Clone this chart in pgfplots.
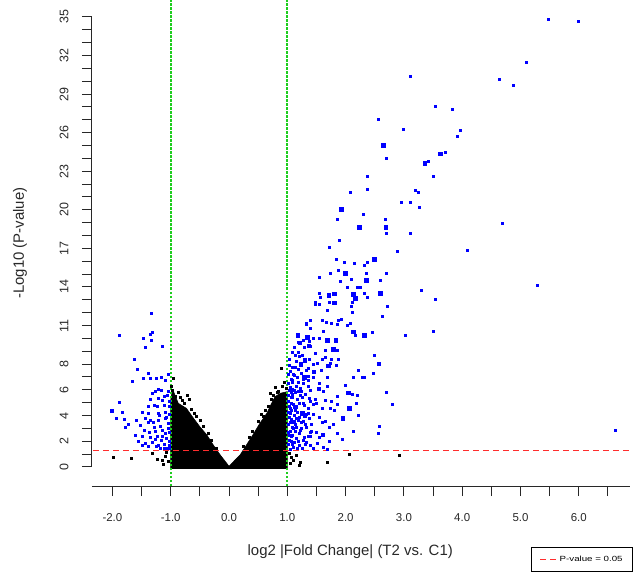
\documentclass[border=0pt]{standalone}
\usepackage{fontspec}
\setmainfont{Liberation Sans}
\usepackage{pgfplots}
\pgfplotsset{compat=1.18}
\definecolor{ptblue}{RGB}{0,0,255}
\definecolor{vgreen}{RGB}{30,205,30}
\definecolor{vred}{RGB}{255,45,45}
\definecolor{axgray}{RGB}{40,40,40}
\begin{document}
\begin{tikzpicture}
\begin{axis}[
  scale only axis, width=538bp, height=469bp,
  xmin=-2.35, xmax=6.878, ymin=-1.478, ymax=35,
  axis x line*=bottom, axis y line*=left,
  axis line style={-, line width=1bp, axgray},
  y axis line style={shorten <=19bp},
  tick align=outside,
  major tick length=10bp, minor tick length=10bp,
  every tick/.style={line width=1bp, axgray},
  minor tick style={line width=1bp, axgray},
  xtick={-2,-1,0,1,2,3,4,5,6},
  xticklabels={-2.0,-1.0,0.0,1.0,2.0,3.0,4.0,5.0,6.0},
  minor xtick={-1.5,-0.5,0.5,1.5,2.5,3.5,4.5,5.5,6.5},
  ytick={0,2,4,6,8,11,14,17,20,23,26,29,32,35},
  yticklabels={0,2,4,6,8,11,14,17,20,23,26,29,32,35},
  minor ytick={1,3,5,7,9,10,12,13,15,16,18,19,21,22,24,25,27,28,30,31,33,34},
  xticklabel style={font=\fontsize{11.5}{13}\selectfont, text=axgray},
  yticklabel style={font=\fontsize{12.5}{14}\selectfont, text=axgray, rotate=90, anchor=south},
  xticklabel shift=14bp,
  yticklabel shift=10bp,
  xlabel={log2 |Fold Change| (T2 vs. C1)},
  ylabel={-Log10 (P-value)},
  label style={font=\fontsize{15}{18}\selectfont, text=axgray},
  xlabel style={at={(axis description cs:0.48,-0.141)}, anchor=center},
  ylabel style={at={(axis description cs:-0.134,0.518)}, anchor=center},
  clip=false,
  legend style={at={(axis description cs:1.0056,-0.130)}, anchor=north east,
    font=\fontsize{7.5}{8}\selectfont, draw=black, line width=0.8bp,
    inner xsep=8bp, inner ysep=6.5bp, cells={anchor=west}},
]
% dense non-significant cloud
\addplot[fill=black, draw=black, line width=0.6bp, forget plot] coordinates {
(-1.0,-0.12) (-1.0,5.2) (-0.98,5.75) (-0.95,5.85) (-0.87,4.95) (-0.73,4.56) (-0.61,3.79)
(-0.50,3.13) (-0.38,2.49) (-0.27,1.71) (-0.15,0.93) (-0.04,0.29) (0,0.05) (0.05,0.29)
(0.19,0.93) (0.30,1.71) (0.42,2.57) (0.53,3.40) (0.65,4.18) (0.73,4.95) (0.79,5.47)
(0.88,5.73) (1.0,5.86) (1.0,-0.12)} -- cycle;
\addplot[only marks, mark=square*, mark size=1bp, black, forget plot] coordinates {
(-1.99,0.80)(-1.68,0.70)(-1.23,0.62)(-1.32,1.09)(-1.15,0.50)(-1.10,0.85)(-1.08,1.15)(-1.13,0.25)(-1.05,0.45)
(-0.95,6.90)(-0.99,6.25)(-0.88,5.80)(-0.72,5.55)(-0.69,5.25)(-0.65,4.50)(-0.56,3.95)(-0.50,3.65)(-0.97,6.0)
(-0.92,5.5)(-0.80,5.2)(-0.60,4.2)(-0.45,3.2)(-0.35,2.6)(-0.84,5.45)(-0.77,4.95)(-0.30,2.1)(-0.22,1.5)
(0.89,7.70)(0.82,5.85)(0.75,5.55)(0.68,4.75)(0.59,3.95)(0.79,6.20)(0.92,6.30)(0.95,6.6)(0.98,6.1)(0.85,5.9)
(0.72,5.3)(0.62,4.4)(0.50,3.6)(0.40,2.8)(0.34,2.3)(0.25,1.6)(0.56,4.1)(0.70,5.75)
(1.22,0.41)(1.68,0.41)(2.07,1.00)(2.92,0.88)(1.06,0.80)(1.05,0.3)(1.10,0.55)(1.15,0.9)(1.03,1.1)(1.2,0.15)};
% significant, small marks
\addplot[only marks, mark=square*, mark size=1bp, ptblue, forget plot] coordinates {
(5.48,34.82)(5.99,34.71)(5.09,31.48)(4.63,30.20)(4.87,29.69)(3.10,30.39)(3.53,28.06)(3.83,27.79)(2.56,27.04)
(2.98,26.27)(3.96,26.16)(3.92,25.72)(3.70,24.52)(2.70,24.01)(3.41,23.78)(2.37,22.58)(3.51,22.58)(2.37,21.62)
(3.20,21.55)(3.24,21.39)(4.68,18.95)(4.09,16.85)(5.29,14.16)(3.29,13.77)(3.53,13.07)(3.51,10.58)(6.63,2.88)
(2.08,21.34)(2.96,20.56)(3.10,20.56)(3.26,20.20)(2.30,19.68)(1.86,19.29)(2.68,19.29)(2.70,18.15)(3.10,18.20)
(1.89,17.66)(1.72,17.09)(2.89,16.80)(1.84,16.20)(1.98,15.92)(2.15,15.84)(2.32,15.71)(2.37,15.92)(1.55,14.80)
(1.73,15.11)(1.87,15.27)(2.35,15.11)(2.69,15.11)(2.10,14.62)(2.60,14.52)(1.90,14.44)(2.03,14.02)(2.20,14.02)
(2.25,14.02)(1.55,13.48)(2.32,13.51)(1.57,13.20)(2.37,13.22)(1.48,12.78)(1.54,12.68)(1.71,12.78)(2.10,12.47)
(2.11,12.81)(2.72,12.47)(1.68,12.16)(2.12,12.06)(2.62,11.72)(1.39,11.43)(1.60,11.38)(1.66,11.30)(1.88,11.43)
(1.93,11.51)(1.75,11.15)(1.32,11.22)(2.08,11.18)(2.02,11.02)(1.86,11.12)(1.40,10.81)(1.61,10.60)(2.46,10.52)
(2.16,10.24)(3.02,10.24)(1.45,9.98)(1.54,10.03)(1.37,9.75)(1.29,9.31)(1.39,9.43)(1.65,9.10)(1.86,9.05)
(1.47,8.84)(1.18,8.94)(1.14,8.73)(1.26,8.73)(2.49,8.69)(1.37,8.38)(1.60,8.38)(1.65,8.53)(1.75,8.38)(1.87,8.42)
(1.45,8.01)(1.35,7.68)(1.73,8.07)(1.58,7.54)(1.84,7.88)(1.08,7.80)(1.32,7.49)(2.21,7.54)(2.48,7.33)(1.11,7.16)
(1.45,6.98)(1.17,6.98)(1.35,6.77)(1.68,7.02)(2.13,6.95)(2.32,6.98)(2.29,6.95)(1.02,7.21)(1.06,6.84)(1.09,6.63)
(1.27,6.51)(1.36,6.32)(1.16,6.30)(1.19,5.93)(1.62,5.93)(1.69,6.32)(2.11,5.68)(2.20,5.58)(2.70,5.81)(1.05,6.20)
(1.06,5.81)(1.09,5.42)(1.31,5.68)(1.38,5.34)(1.47,5.27)(1.65,5.16)(1.75,5.11)(1.86,5.47)(2.18,4.95)(2.80,4.88)
(1.29,4.80)(1.45,4.88)(1.50,4.98)(1.74,4.57)(1.81,4.38)(1.03,4.74)(1.06,4.38)(1.35,4.22)(1.45,4.07)(2.22,4.04)
(1.18,3.66)(1.59,3.52)(1.24,3.45)(1.08,3.52)(1.41,3.34)(1.08,3.13)(1.71,3.11)(2.57,3.21)(1.23,3.03)(1.13,2.82)
(1.02,2.72)(1.21,2.62)(1.39,2.72)(1.49,2.70)(1.86,2.64)(2.13,2.78)(2.56,2.59)(1.39,2.36)
(1.07,1.97)(1.21,1.66)(1.30,1.77)(1.40,1.66)(1.10,1.53)(1.68,1.38)(1.05,1.40)(1.15,2.23)(1.27,2.10)(1.55,2.28)
(1.06,2.36)(1.35,2.41)(1.03,3.87)(1.05,3.52)(1.10,3.01)(1.05,2.75)(1.05,4.57)(1.12,4.69)(1.05,4.18)(1.11,4.04)
(1.15,3.79)(1.02,5.08)(1.10,4.90)(1.06,5.39)(1.17,5.27)(1.09,6.04)(1.09,5.68)(1.10,7.23)(1.05,7.47)(1.13,7.80)
(1.15,8.24)(1.20,8.63)(1.12,9.28)(1.18,9.67)(1.19,10.32)(1.32,11.12)(1.48,12.68)(1.22,6.12)(1.15,6.30)(1.19,6.63)
(1.09,6.77)(1.22,2.88)(1.13,3.34)(1.33,3.06)(1.41,2.75)(1.24,4.22)(1.33,4.10)(1.27,5.00)(1.26,5.39)
(1.01,1.8)(1.04,2.1)(1.08,2.5)(1.12,1.9)(1.17,1.45)(1.25,1.45)(1.33,1.9)(1.45,1.5)(1.52,1.85)(1.61,1.55)
(1.02,3.3)(1.07,3.7)(1.16,3.1)(1.20,3.9)(1.28,3.6)(1.37,3.8)(1.02,4.3)(1.14,4.4)(1.21,4.95)(1.35,4.6)
(1.40,5.1)(1.01,5.6)(1.13,5.8)(1.24,5.9)(1.28,6.8)(1.01,6.5)(1.04,7.9)(1.24,7.3)(1.19,7.6)(1.03,8.4)
(1.08,8.9)(1.27,9.9)(1.52,8.1)(1.55,6.5)(1.40,6.0)(1.60,4.6)(1.55,3.9)(1.65,3.6)(1.78,3.3)(1.95,2.2)
(1.72,2.0)(1.85,4.9)(2.0,6.4)(1.03,6.0)(1.06,4.95)(1.12,3.6)(1.04,2.45)(1.18,2.0)(1.31,3.3)(1.22,5.6)
(1.36,7.1)(1.11,6.0)(1.17,4.3)(1.29,2.3)(1.08,1.75)
(-1.34,11.98)(-1.88,10.27)(-1.32,10.52)(-1.36,10.34)(-1.48,9.98)(-1.33,9.88)(-1.43,9.31)(-1.15,9.39)(-1.63,8.40)
(-1.57,7.62)(-1.38,7.33)(-1.66,6.71)(-1.48,6.87)(-1.36,6.90)(-1.25,6.90)(-1.17,7.00)(-1.10,6.77)(-1.04,7.21)
(-1.16,6.01)(-1.21,6.07)(-1.26,5.89)(-1.31,5.73)(-1.12,5.52)(-1.06,5.60)(-1.35,5.29)(-1.22,5.34)(-1.15,5.21)
(-1.03,5.08)(-1.29,4.82)(-1.39,4.74)(-1.23,4.69)(-1.12,4.82)(-1.03,4.69)(-1.89,5.03)(-1.84,4.28)(-1.49,4.28)
(-1.39,4.18)(-1.22,4.22)(-1.09,4.30)(-1.94,3.79)(-1.80,3.71)(-1.59,3.66)(-1.44,3.79)(-1.35,3.66)(-1.21,3.66)
(-1.09,3.79)(-1.78,3.06)(-1.73,3.29)(-1.52,3.27)(-1.39,3.45)(-1.29,3.13)(-1.18,3.19)(-1.05,3.40)(-1.46,2.88)
(-1.37,2.70)(-1.27,2.75)(-1.14,2.88)(-1.03,2.67)(-1.61,2.49)(-1.49,2.36)(-1.35,2.31)(-1.23,2.41)(-1.15,2.36)
(-1.08,2.23)(-1.55,1.97)(-1.44,1.84)(-1.32,1.89)(-1.21,1.71)(-1.12,1.79)(-1.03,1.71)(-1.49,1.71)(-1.38,1.58)
(-1.18,1.45)(-1.06,1.45)(-1.25,1.58)
(-1.02,2.0)(-1.04,3.0)(-1.07,3.9)(-1.02,4.1)(-1.05,5.9)(-1.10,2.6)(-1.17,2.1)(-1.27,2.2)(-1.19,4.0)(-1.30,3.5)
(-1.12,1.5)(-1.02,1.45)};
% significant, larger marks
\addplot[only marks, mark=square*, mark size=1.8bp, ptblue, forget plot] coordinates {
(2.64,25.02)(3.62,24.37)(3.36,23.62)(1.92,20.04)(2.23,18.64)(2.69,18.64)(2.49,16.15)(1.99,15.07)(2.35,14.52)
(1.71,13.35)(1.80,13.48)(2.13,13.46)(2.59,13.51)(2.16,13.12)(1.80,12.78)(2.13,10.52)(2.32,10.27)(1.18,10.27)
(1.34,10.09)(1.68,9.88)(1.83,9.88)(1.21,9.67)(1.37,9.43)(1.79,9.15)(1.30,8.32)(1.23,8.01)(1.70,7.88)(2.57,8.03)
(1.29,6.98)(1.45,7.41)(1.54,6.09)(2.04,5.78)(1.14,4.69)(2.06,4.57)(1.26,4.18)(1.30,4.04)(1.95,3.81)(1.61,2.51)
(-2.01,4.38)};
% fold-change thresholds
\addplot[vgreen, dash pattern=on 2.5bp off 1.5bp, line width=1.8bp, forget plot] coordinates {(-1,-1.478) (-1,36.3)};
\addplot[vgreen, dash pattern=on 2.5bp off 1.5bp, line width=1.8bp, forget plot] coordinates {(1,-1.478) (1,36.3)};
% p-value threshold
\addplot[vred, dash pattern=on 6bp off 4bp, line width=1.2bp] coordinates {(-2.33,1.3) (6.878,1.3)};
\addlegendentry{\scalebox{1.3}[1]{P-value = 0.05}}
\end{axis}
\pgfresetboundingbox
\path (current axis.south west) ++(-92bp,-88bp) rectangle ++(634bp,574bp);
\end{tikzpicture}
\end{document}
